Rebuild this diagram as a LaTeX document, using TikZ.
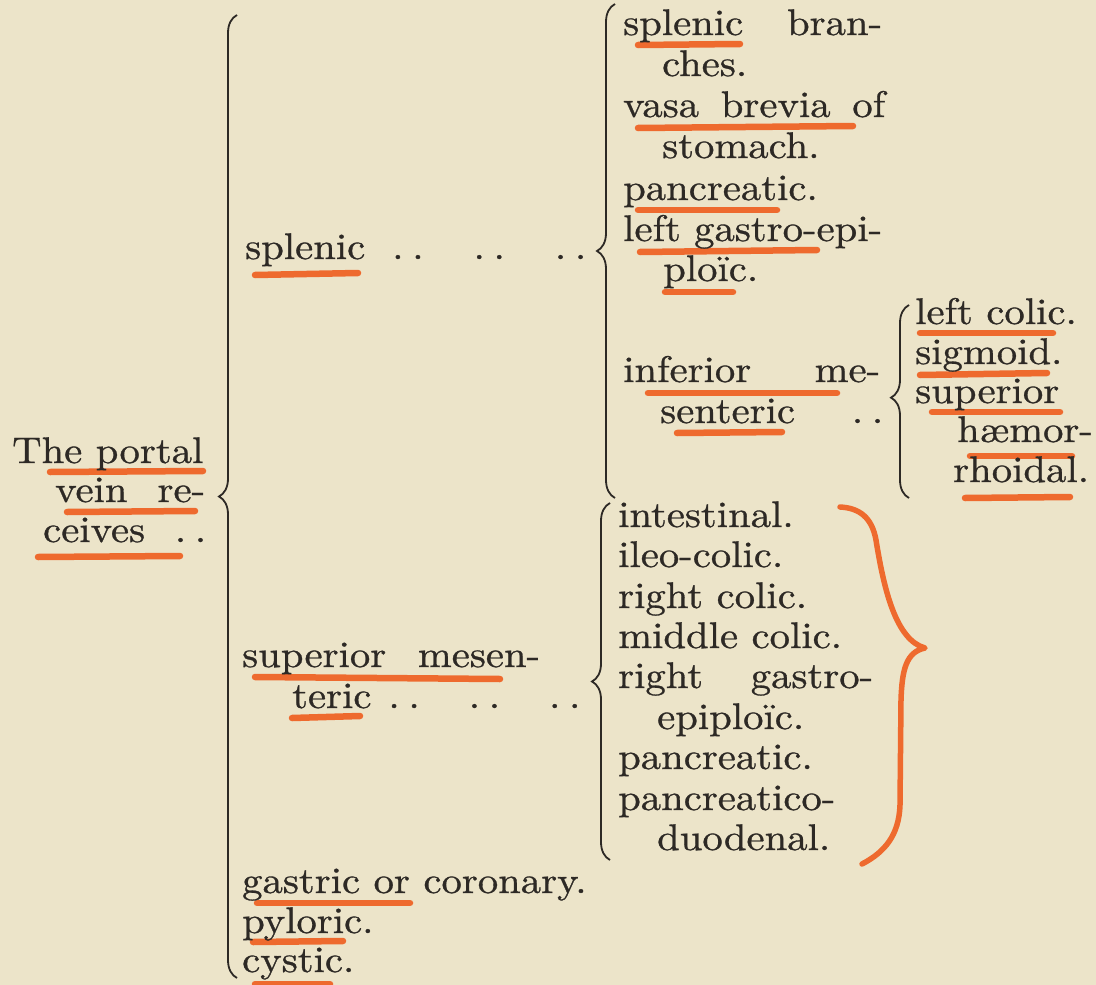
\documentclass[tikz,border=0pt]{standalone}
\usetikzlibrary{decorations.pathreplacing}
\definecolor{paper}{RGB}{236,228,201}
\definecolor{ink}{RGB}{45,41,37}
\definecolor{crayon}{RGB}{238,106,46}
\font\bookfnt="[lmroman10-regular]:extend=1.1;embolden=0.8" at 37pt
\newcommand{\justline}[2]{\hbox to #1{#2}}
\newcommand{\dotpair}{.\kern8.7pt.}
\tikzset{entry/.style={anchor=base west,inner sep=0pt,font=\bookfnt,text=ink},bracket/.style={decorate,decoration={brace,amplitude=18pt},draw=ink,line width=1.8pt},hilite/.style={draw=crayon,line width=6.5pt,line cap=round}}

\begin{document}
\begin{tikzpicture}[x=1pt,y=-1pt]
\useasboundingbox (0,0) rectangle (1096,985);
\fill[paper] (0,0) rectangle (1096,985);
% crayon marks, under the print
\foreach \xa/\ya/\xb/\yb in {50/472/203/471,67/512/195/511,38/557/180/556,255/275/358/273,255/677/500/679,292/718/360/716,257/903/410/903,253/942/343/941,255/984/330/984,638/45/740/44,638/128/853/126,638/210/777/210,640/252/817/250,665/292/733/292,648/393/837/393,677/433/782/432,920/333/1053/333,920/375/1047/373,932/412/1060/412,970/456/1072/456,965/498/1070/497}
  \draw[hilite] (\xa,\ya) -- (\xb,\yb);
\draw[crayon,line width=5.5pt,line cap=round,line join=round] (840,507) .. controls (860,508) and (872,518) .. (876,540) .. controls (884,590) and (896,640) .. (925,648) .. controls (906,652) and (902,670) .. (901,700) -- (900,805) .. controls (899,835) and (885,852) .. (862,864);
% left column
\node[entry] (portal) at (12,463) {The portal};
\node[entry] (vein) at (55,502) {\justline{150pt}{vein\hfill re-}};
\node[entry] (ceives) at (43,542) {\justline{163pt}{ceives\hfill\dotpair}};
% second column
\node[entry] (splenic) at (245,259) {splenic\hspace{27pt}\dotpair\hspace{50pt}\dotpair\hspace{50pt}\dotpair};
\node[entry] (supmes) at (242,667) {\justline{298pt}{superior\hfill mesen-}};
\node[entry] (teric) at (292,708) {teric\hspace{17pt}\dotpair\hspace{49pt}\dotpair\hspace{49pt}\dotpair};
\node[entry] (gastric) at (242,893) {gastric or coronary.};
\node[entry] (pyloric) at (242,933) {pyloric.};
\node[entry] (cystic) at (242,972) {cystic.};
% branches of the splenic
\node[entry] (splbr) at (623,35) {\justline{259pt}{splenic\hfill bran-}};
\node[entry] (ches) at (662,76) {ches.};
\node[entry] (vasa) at (623,117) {\justline{262pt}{vasa\hfill brevia\hfill of}};
\node[entry] (stomach) at (662,158) {stomach.};
\node[entry] (pancr) at (623,200) {pancreatic.};
\node[entry] (leftge) at (623,241) {\justline{259pt}{left\hfill gastro-epi-}};
\node[entry] (ploic) at (663,281) {ploïc.};
\node[entry] (infmes) at (623,382) {\justline{257pt}{inferior\hfill me-}};
\node[entry] (senteric) at (660,423) {\justline{223pt}{senteric\hfill\dotpair}};
% branches of the inferior mesenteric
\node[entry] (leftcol) at (915,324) {left colic.};
\node[entry] (sigmoid) at (915,364) {sigmoid.};
\node[entry] (suphae) at (915,403) {superior};
\node[entry] (haemor) at (957,442) {hæmor-};
\node[entry] (rhoidal) at (953,482) {rhoidal.};
% branches of the superior mesenteric
\node[entry] (intest) at (618,527) {intestinal.};
\node[entry] (ileo) at (618,567) {ileo-colic.};
\node[entry] (rcolic) at (618,608) {right colic.};
\node[entry] (mcolic) at (618,648) {middle colic.};
\node[entry] (rgastro) at (618,688) {\justline{255pt}{right\hfill gastro-}};
\node[entry] (epiploic) at (657,729) {epiploïc.};
\node[entry] (pancr2) at (618,769) {pancreatic.};
\node[entry] (pancduo) at (618,810) {pancreatico-};
\node[entry] (duoden) at (657,850) {duodenal.};
% braces
\coordinate (allbot) at (237,978);
\coordinate (alltop) at (237,15);
\coordinate (splbot) at (615,498);
\coordinate (spltop) at (615,4);
\coordinate (imbot) at (909,498);
\coordinate (imtop) at (909,305);
\coordinate (smbot) at (610,860);
\coordinate (smtop) at (610,503);
\draw[bracket] (allbot) -- (alltop);
\draw[bracket] (splbot) -- (spltop);
\draw[bracket,decoration={aspect=0.52}] (imbot) -- (imtop);
\draw[bracket] (smbot) -- (smtop);
\end{tikzpicture}
\end{document}
